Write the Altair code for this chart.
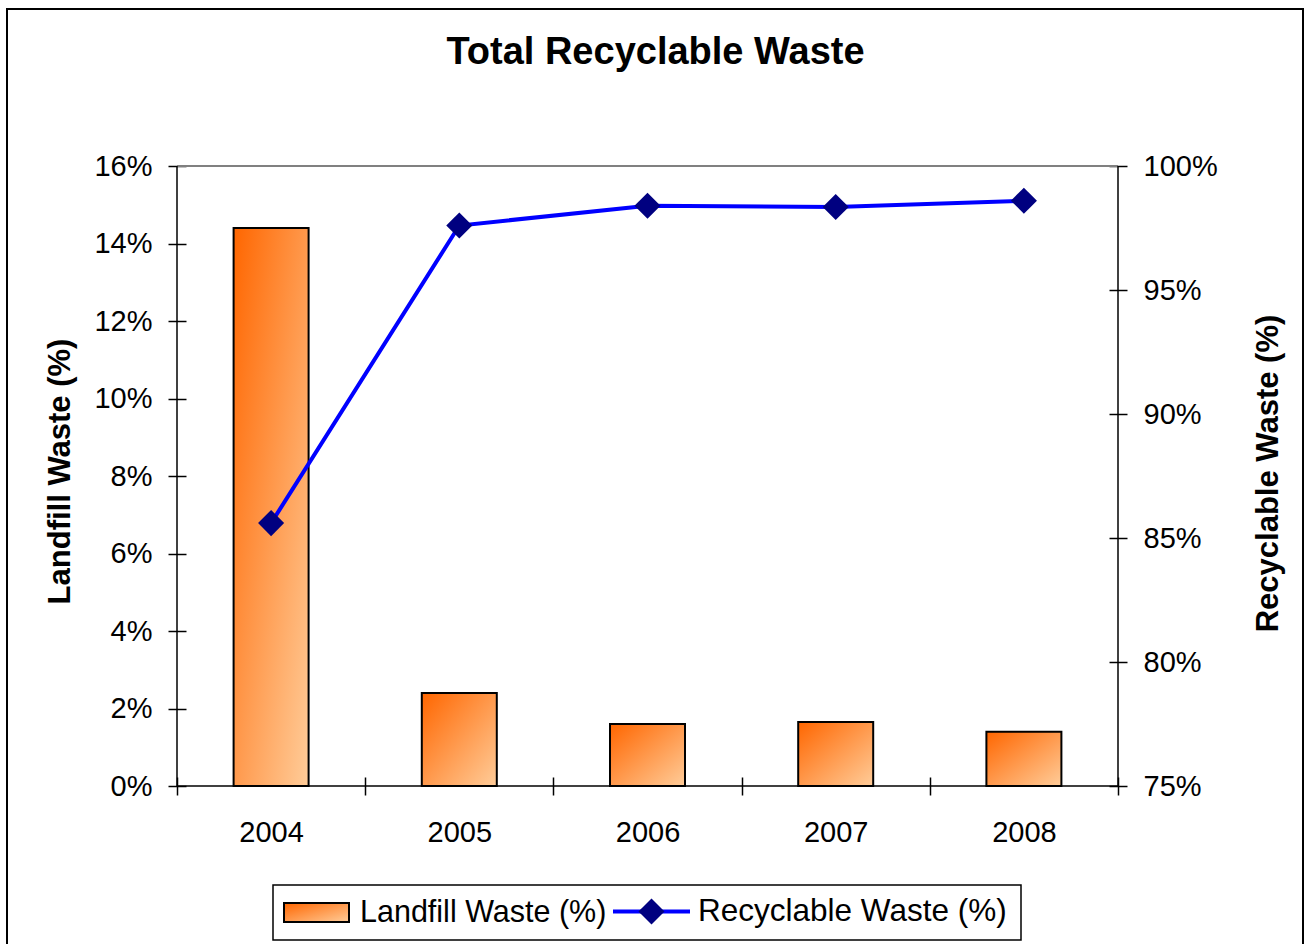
import altair as alt
import pandas as pd

# Share of waste sent to landfill vs. recycled, per year (percent)
years = ["2004", "2005", "2006", "2007", "2008"]
landfill_pct = [14.4, 2.4, 1.6, 1.65, 1.4]
recyclable_pct = [85.6, 97.6, 98.4, 98.35, 98.6]

left_ticks = [0, 2, 4, 6, 8, 10, 12, 14, 16]
right_ticks = [75, 80, 85, 90, 95, 100]

LANDFILL = "Landfill Waste (%)"
RECYCLABLE = "Recyclable Waste (%)"

W, H = 941, 620
FONT = "Liberation Sans"

data = pd.DataFrame({
    "year": years,
    "landfill": landfill_pct,
    "recyclable": recyclable_pct,
    "bar_series": LANDFILL,
    "line_series": RECYCLABLE,
    "marker_series": "marker",
})
one = pd.DataFrame({"k": [0]})

# category axis: ticks on band boundaries, crossing the baseline
x_enc = alt.X(
    "year:N",
    scale=alt.Scale(paddingInner=0, paddingOuter=0),
    axis=alt.Axis(
        title=None, tickBand="extent", offset=-9, tickSize=18, tickWidth=1.5,
        tickColor="black", domain=False, labelAngle=0, labelFontSize=29,
        labelPadding=46, labelBaseline="alphabetic", grid=False,
    ),
)


def value_axis(orient, values, title, title_x, title_y):
    return alt.Axis(
        orient=orient, values=values, labelExpr="datum.value + '%'",
        offset=-9, tickSize=18, tickWidth=1.5, tickColor="black", domain=False,
        labelPadding=16, labelFontSize=29, labelFlush=False, labelOverlap=False,
        grid=False, title=title, titleFontSize=31, titleFontWeight="bold",
        titleAngle=270, titleAlign="center", titleBaseline="middle",
        titleX=title_x, titleY=title_y,
    )


bar_fill = alt.LinearGradient(
    gradient="linear",
    stops=[alt.GradientStop(color="#FF6600", offset=0),
           alt.GradientStop(color="#FFCC99", offset=1)],
    x1=0, y1=0, x2=1, y2=1,
)

bars = alt.Chart(data).mark_bar(fill=bar_fill, stroke="black", strokeWidth=2, size=75).encode(
    x=x_enc,
    y=alt.Y("landfill:Q", scale=alt.Scale(domain=[0, 16], nice=False),
            axis=value_axis("left", left_ticks, LANDFILL, -126, 305)),
    opacity=alt.Opacity(
        "bar_series:N", scale=alt.Scale(range=[1]),
        legend=alt.Legend(
            orient="none", legendX=106, legendY=713, title=None, padding=0,
            symbolType="M-1,-0.29H1V0.29H-1Z", symbolSize=4225,
            symbolStrokeWidth=2,
            labelFontSize=30.5, labelOffset=10, labelLimit=600,
        ),
    ),
)

right_y = alt.Y("recyclable:Q", scale=alt.Scale(domain=[75, 100], nice=False),
                axis=value_axis("right", right_ticks, RECYCLABLE, 159, 307))

line = alt.Chart(data).mark_line(color="#0000FF", strokeWidth=4).encode(
    x=x_enc,
    y=right_y,
    stroke=alt.Stroke(
        "line_series:N", scale=alt.Scale(range=["#0000FF"]),
        legend=alt.Legend(
            orient="none", legendX=434, legendY=705, title=None, padding=0,
            symbolType="stroke", symbolSize=5929, symbolStrokeWidth=4,
            labelFontSize=31.5, labelOffset=6, labelLimit=600,
        ),
    ),
)

points = alt.Chart(data).mark_point(
    shape="diamond", filled=True, color="#000080", size=680, opacity=1
).encode(
    x=x_enc,
    y=right_y,
    shape=alt.Shape(
        "marker_series:N", scale=alt.Scale(range=["diamond"]),
        legend=alt.Legend(
            orient="none", legendX=461, legendY=732, title=None, padding=0,
            symbolSize=680, symbolFillColor="#000080", symbolStrokeWidth=0,
            labelExpr="''", labelFontSize=1,
        ),
    ),
)

# plot-area edges
top_edge = alt.Chart(one).mark_rule(color="#808080", strokeWidth=2).encode(
    x=alt.value(0), x2=alt.value(W), y=alt.value(0))
left_edge = alt.Chart(one).mark_rule(color="black", strokeWidth=1.5).encode(
    x=alt.value(0), y=alt.value(0), y2=alt.value(H))
right_edge = alt.Chart(one).mark_rule(color="black", strokeWidth=1.5).encode(
    x=alt.value(W), y=alt.value(0), y2=alt.value(H))
bottom_edge = alt.Chart(one).mark_rule(color="black", strokeWidth=1.5).encode(
    x=alt.value(0), x2=alt.value(W), y=alt.value(H))

# chart border and legend box
outer_frame = alt.Chart(one).mark_rect(fillOpacity=0, stroke="black", strokeWidth=2).encode(
    x=alt.value(-170), x2=alt.value(1126), y=alt.value(-157), y2=alt.value(800))
legend_box = alt.Chart(one).mark_rect(fillOpacity=0, stroke="black", strokeWidth=1.5).encode(
    x=alt.value(96), x2=alt.value(844), y=alt.value(719), y2=alt.value(774))

chart = alt.layer(
    outer_frame, legend_box, bars,
    top_edge, left_edge, right_edge, bottom_edge,
    alt.layer(line, points),
).resolve_scale(y="independent").properties(
    width=W, height=H,
    title=alt.TitleParams(
        text="Total Recyclable Waste", font=FONT, fontSize=38, fontWeight="bold",
        color="black", anchor="middle", offset=0, baseline="alphabetic",
        dx=8, dy=94,
    ),
    autosize=alt.AutoSizeParams(type="none"),
    padding={"left": 177, "top": 166, "right": 192, "bottom": 158},
).configure_axis(
    labelFont=FONT, titleFont=FONT, labelColor="black", titleColor="black",
).configure_legend(
    labelFont=FONT, labelColor="black",
).configure_view(strokeWidth=0)

chart.save("out.html", embed_options={"renderer": "svg", "actions": False})
